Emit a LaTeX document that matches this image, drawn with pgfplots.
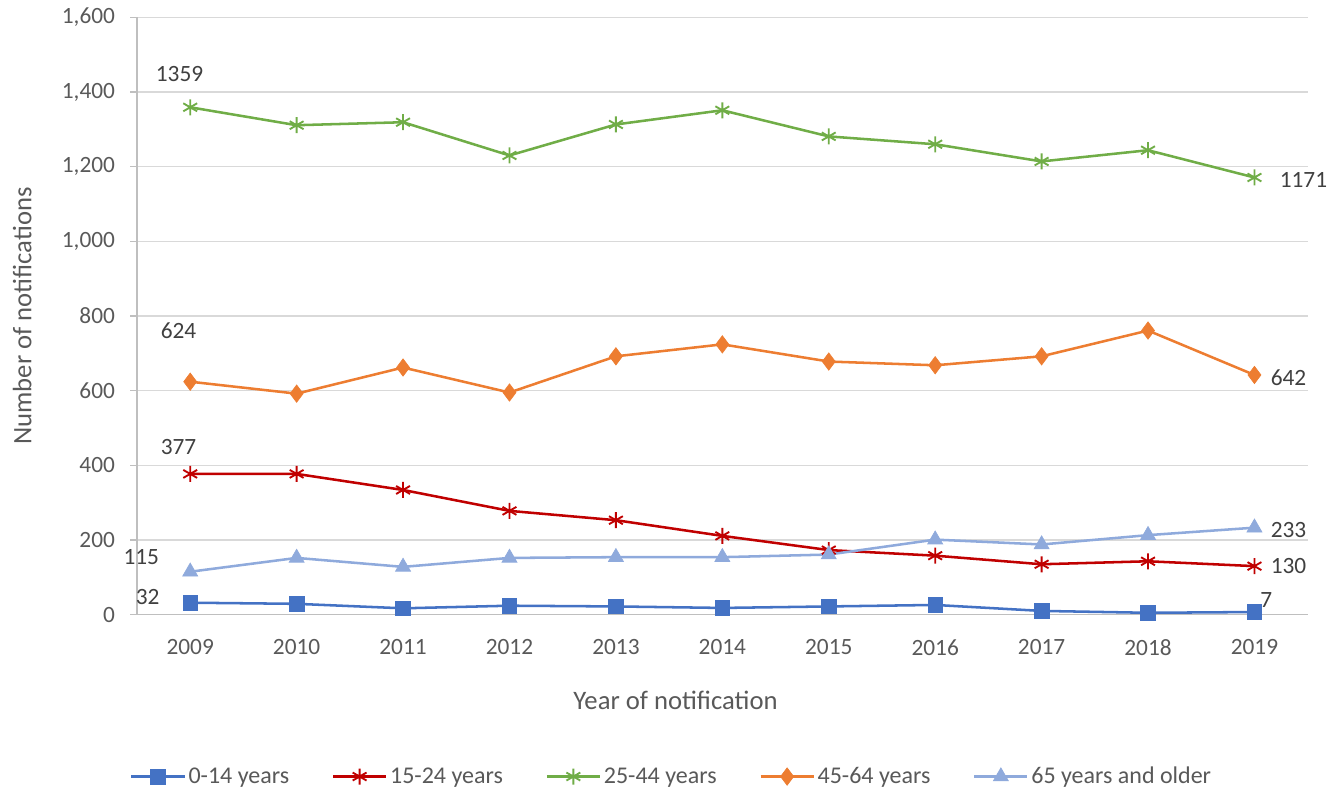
\documentclass[border=0pt]{standalone}
\usepackage{pgfplots}
\pgfplotsset{compat=1.18}
\usepackage{fontspec}
\setmainfont{Carlito}

\definecolor{cBlue}{HTML}{4472C4}
\definecolor{cRed}{HTML}{C00000}
\definecolor{cGreen}{HTML}{70AD47}
\definecolor{cOrange}{HTML}{ED7D31}
\definecolor{cLight}{HTML}{8FAADC}
\definecolor{txt}{HTML}{595959}
\definecolor{lbl}{HTML}{404040}

\begin{document}
\begin{tikzpicture}
\useasboundingbox (0,0) rectangle (1002pt,593pt);
\begin{axis}[
    at={(102.75pt,132pt)}, anchor=south west,
    scale only axis,
    width=878pt, height=448pt,
    xmin=2008.5, xmax=2019.5,
    ymin=0, ymax=1600,
    clip=false,
    xtick={2009,2010,2011,2012,2013,2014,2015,2016,2017,2018,2019},
    xticklabel style={/pgf/number format/1000 sep=, yshift=-10pt},
    yticklabel style={xshift=-8pt},
    x tick style={draw=none},
    extra x ticks={2008.5,2009.5,2010.5,2011.5,2012.5,2013.5,2014.5,2015.5,2016.5,2017.5,2018.5,2019.5},
    extra x tick labels={},
    extra x tick style={tick style={draw=black!25, line width=0.9pt}, major tick length=5pt, tick align=outside},
    ytick={0,200,400,600,800,1000,1200,1400,1600},
    y tick style={draw=black!25, line width=0.9pt},
    major tick length=5pt, tick align=outside,
    ymajorgrids=true,
    grid style={draw=black!15, line width=0.9pt},
    axis x line*=bottom, axis y line*=left,
    axis line style={draw=black!25, line width=0.9pt, -},
    tick label style={font=\fontsize{17.5}{20}\selectfont, text=txt},
    /pgf/number format/assume math mode=true,
    xlabel={Year of notification},
    ylabel={Number of notifications},
    label style={font=\fontsize{20}{24}\selectfont, text=txt},
    xlabel style={at={(axis description cs:0.46,-0.144)}, anchor=center},
    ylabel style={at={(axis description cs:-0.098,0.5)}, anchor=center},
    legend columns=5,
    legend style={at={(axis description cs:0.457,-0.271)}, anchor=center, draw=none,
        font=\fontsize{18}{22}\selectfont, text=txt,
        /tikz/every even column/.append style={column sep=30pt}},
    legend image code/.code={
        \draw[mark repeat=2,mark phase=2] plot coordinates {(0cm,0cm) (0.7cm,0cm) (1.4cm,0cm)};},
    every axis plot/.append style={line width=1.9pt},
]
\addplot[color=cBlue, mark=square*, mark size=5.5pt, mark options={solid, line width=0.5pt}]
coordinates {(2009,32) (2010,29) (2011,17) (2012,24) (2013,22) (2014,18) (2015,22) (2016,26) (2017,10) (2018,5) (2019,7)};
\addlegendentry{0-14 years}
\addplot[color=cRed, mark=asterisk, mark size=6pt, mark options={solid, line width=1.4pt}]
coordinates {(2009,377) (2010,377) (2011,334) (2012,278) (2013,253) (2014,211) (2015,173) (2016,158) (2017,135) (2018,143) (2019,130)};
\addlegendentry{15-24 years}
\addplot[color=cGreen, mark=asterisk, mark size=6pt, mark options={solid, line width=1.4pt}]
coordinates {(2009,1359) (2010,1311) (2011,1319) (2012,1230) (2013,1313) (2014,1351) (2015,1281) (2016,1260) (2017,1214) (2018,1244) (2019,1171)};
\addlegendentry{25-44 years}
\addplot[color=cOrange, mark=diamond*, mark size=6.5pt, mark options={solid, line width=0.5pt}]
coordinates {(2009,624) (2010,592) (2011,662) (2012,595) (2013,692) (2014,724) (2015,678) (2016,668) (2017,692) (2018,761) (2019,642)};
\addlegendentry{45-64 years}
\addplot[color=cLight, mark=triangle*, mark size=6.5pt, mark options={solid, line width=0.5pt}]
coordinates {(2009,115) (2010,152) (2011,128) (2012,152) (2013,154) (2014,154) (2015,161) (2016,201) (2017,188) (2018,213) (2019,233)};
\addlegendentry{65 years and older}

\begin{scope}[every node/.style={font=\fontsize{17.5}{20}\selectfont, text=lbl}]
\node at (axis cs:2008.9,1447) {1359};
\node at (axis cs:2008.89,761) {624};
\node at (axis cs:2008.89,450) {377};
\node at (axis cs:2008.54,155) {115};
\node at (axis cs:2008.6,48) {32};
\node at (axis cs:2019.46,1164) {1171};
\node at (axis cs:2019.32,635) {642};
\node at (axis cs:2019.32,228) {233};
\node at (axis cs:2019.32,131) {130};
\node at (axis cs:2019.11,38) {7};
\end{scope}
\end{axis}
\end{tikzpicture}
\end{document}
